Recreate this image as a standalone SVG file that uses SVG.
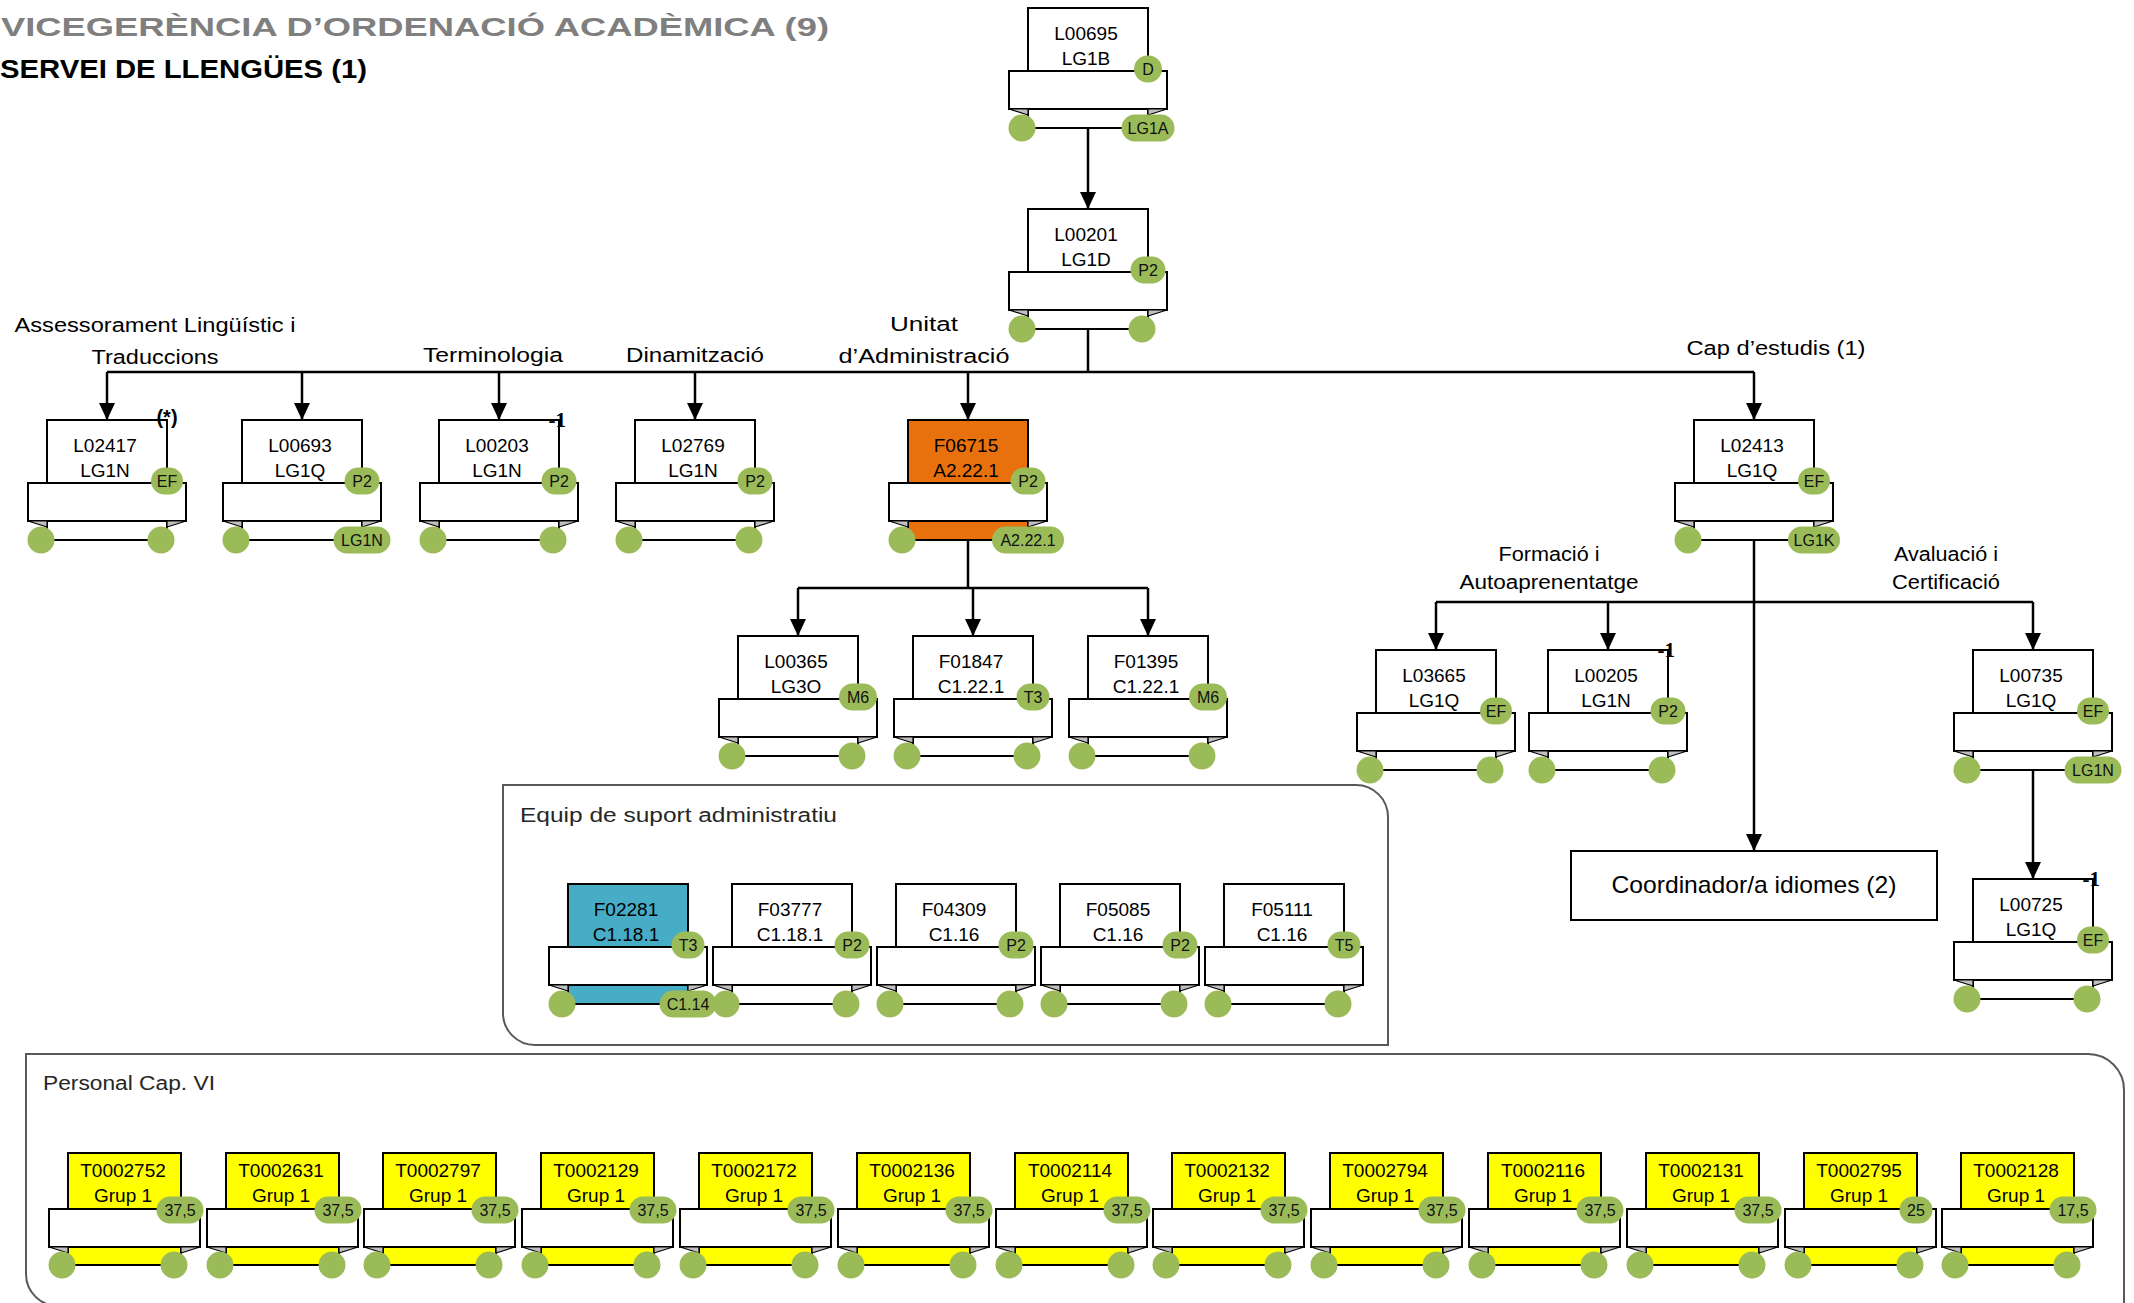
<svg xmlns="http://www.w3.org/2000/svg" xmlns:xlink="http://www.w3.org/1999/xlink" width="2134" height="1303" viewBox="0 0 2134 1303">
<style>
.t{font-family:"Liberation Sans",Arial,sans-serif;font-size:19px;text-anchor:middle;fill:#000}
.bt{font-family:"Liberation Sans",Arial,sans-serif;font-size:16px;text-anchor:middle;fill:#111}
.b{fill:#9BBB59}
.lbl{font-family:"Liberation Sans",Arial,sans-serif;font-size:20px;text-anchor:middle;fill:#000}
.grp{fill:#fff;stroke:#595959;stroke-width:2}
.gt{font-family:"Liberation Sans",Arial,sans-serif;font-size:20px;fill:#262626}
.mk{font-family:"Liberation Serif","Times New Roman",serif;font-weight:bold;font-size:21px;text-anchor:end;fill:#000}
.ln{fill:none;stroke:#000;stroke-width:2.5}
</style>
<defs>
<marker id="ah" markerUnits="userSpaceOnUse" markerWidth="17" markerHeight="16" viewBox="0 0 17 16" refX="17" refY="8" orient="auto">
<path d="M0,0 L17,8 L0,16 Z" fill="#000"/>
</marker>
<g id="card">
<rect x="0" y="0" width="120" height="120" stroke="#000" stroke-width="2"/>
<rect x="-19" y="63" width="158" height="38" fill="#fff" stroke="#000" stroke-width="2"/>
<path d="M-19,101 L0,101 L0,107 Z" fill="#C0C0C0" stroke="#000" stroke-width="1.2"/>
<path d="M139,101 L120,101 L120,107 Z" fill="#C0C0C0" stroke="#000" stroke-width="1.2"/>
</g>
<g id="ycard">
<rect x="0" y="0" width="113" height="112" fill="#FFFF00" stroke="#000" stroke-width="2"/>
<rect x="-19" y="56" width="151" height="38" fill="#fff" stroke="#000" stroke-width="2"/>
<path d="M-19,94 L0,94 L0,100 Z" fill="#C0C0C0" stroke="#000" stroke-width="1.2"/>
<path d="M132,94 L113,94 L113,100 Z" fill="#C0C0C0" stroke="#000" stroke-width="1.2"/>
</g>
</defs>
<rect x="0" y="0" width="2134" height="1303" fill="#fff"/>

<text x="1" y="36" font-family="Liberation Sans, Arial, sans-serif" font-weight="bold" font-size="26" fill="#7F7F7F" textLength="828" lengthAdjust="spacingAndGlyphs">VICEGERÈNCIA D’ORDENACIÓ ACADÈMICA (9)</text>
<text x="0" y="78" font-family="Liberation Sans, Arial, sans-serif" font-weight="bold" font-size="26" fill="#000" textLength="367" lengthAdjust="spacingAndGlyphs">SERVEI DE LLENGÜES (1)</text>

<g id="grp-equip">
<path class="grp" d="M503,785 H1356 A32,32 0 0 1 1388,817 V1045 H535 A32,32 0 0 1 503,1013 Z"/>
<text class="gt" x="520" y="822" textLength="317" lengthAdjust="spacingAndGlyphs">Equip de suport administratiu</text>
</g>
<g id="grp-personal">
<path class="grp" d="M26,1054 H2088 A36,36 0 0 1 2124,1090 V1306 H58 A32,32 0 0 1 26,1274 Z"/>
<text class="gt" x="43" y="1090" textLength="172" lengthAdjust="spacingAndGlyphs">Personal Cap. VI</text>
</g>

<g id="labels">
<text class="lbl" x="155" y="332" textLength="281" lengthAdjust="spacingAndGlyphs">Assessorament Lingüístic i</text>
<text class="lbl" x="155" y="364" textLength="127" lengthAdjust="spacingAndGlyphs">Traduccions</text>
<text class="lbl" x="493" y="362" textLength="140" lengthAdjust="spacingAndGlyphs">Terminologia</text>
<text class="lbl" x="695" y="362" textLength="138" lengthAdjust="spacingAndGlyphs">Dinamització</text>
<text class="lbl" x="924" y="331" textLength="68" lengthAdjust="spacingAndGlyphs">Unitat</text>
<text class="lbl" x="924" y="363" textLength="171" lengthAdjust="spacingAndGlyphs">d’Administració</text>
<text class="lbl" x="1776" y="355" textLength="179" lengthAdjust="spacingAndGlyphs">Cap d’estudis (1)</text>
<text class="lbl" x="1549" y="561" textLength="101" lengthAdjust="spacingAndGlyphs">Formació i</text>
<text class="lbl" x="1549" y="589" textLength="179" lengthAdjust="spacingAndGlyphs">Autoaprenentatge</text>
<text class="lbl" x="1946" y="561" textLength="104" lengthAdjust="spacingAndGlyphs">Avaluació i</text>
<text class="lbl" x="1946" y="589" textLength="108" lengthAdjust="spacingAndGlyphs">Certificació</text>
</g>

<g id="connectors">
<path class="ln" d="M1088,128 V209" marker-end="url(#ah)"/>
<path class="ln" d="M1088,329 V372"/>
<path class="ln" d="M107,372 H1754"/>
<path class="ln" d="M107,372 V420" marker-end="url(#ah)"/>
<path class="ln" d="M302,372 V420" marker-end="url(#ah)"/>
<path class="ln" d="M499,372 V420" marker-end="url(#ah)"/>
<path class="ln" d="M695,372 V420" marker-end="url(#ah)"/>
<path class="ln" d="M968,372 V420" marker-end="url(#ah)"/>
<path class="ln" d="M1754,372 V420" marker-end="url(#ah)"/>
<path class="ln" d="M968,540 V588"/>
<path class="ln" d="M798,588 H1148"/>
<path class="ln" d="M798,588 V636" marker-end="url(#ah)"/>
<path class="ln" d="M973,588 V636" marker-end="url(#ah)"/>
<path class="ln" d="M1148,588 V636" marker-end="url(#ah)"/>
<path class="ln" d="M1754,540 V851" marker-end="url(#ah)"/>
<path class="ln" d="M1436,602 H2033"/>
<path class="ln" d="M1436,602 V650" marker-end="url(#ah)"/>
<path class="ln" d="M1608,602 V650" marker-end="url(#ah)"/>
<path class="ln" d="M2033,602 V650" marker-end="url(#ah)"/>
<path class="ln" d="M2033,770 V879" marker-end="url(#ah)"/>
</g>

<g id="coordinador">
<rect x="1571" y="851" width="366" height="69" fill="#fff" stroke="#000" stroke-width="2"/>
<text x="1754" y="893" font-family="Liberation Sans, Arial, sans-serif" font-size="24" text-anchor="middle" textLength="285" lengthAdjust="spacingAndGlyphs">Coordinador/a idiomes (2)</text>
</g>

<g id="L00695">
<use href="#card" x="1028" y="8" fill="#fff"/>
<text class="t" x="1086" y="40">L00695</text><text class="t" x="1086" y="65">LG1B</text>
<rect class="b" x="1134" y="55.5" width="28" height="27" rx="13.5"/><text class="bt" x="1148" y="75">D</text>
<circle class="b" cx="1022" cy="128" r="13.5"/>
<rect class="b" x="1121.5" y="114.5" width="53" height="27" rx="13.5"/><text class="bt" x="1148" y="134">LG1A</text>
</g>

<g id="L00201">
<use href="#card" x="1028" y="209" fill="#fff"/>
<text class="t" x="1086" y="241">L00201</text><text class="t" x="1086" y="266">LG1D</text>
<rect class="b" x="1130.5" y="256.5" width="35" height="27" rx="13.5"/><text class="bt" x="1148" y="276">P2</text>
<circle class="b" cx="1022" cy="329" r="13.5"/><circle class="b" cx="1142" cy="329" r="13.5"/>
</g>

<g id="L02417">
<use href="#card" x="47" y="420" fill="#fff"/>
<text class="t" x="105" y="452">L02417</text><text class="t" x="105" y="477">LG1N</text>
<rect class="b" x="151" y="467.5" width="32" height="27" rx="13.5"/><text class="bt" x="167" y="487">EF</text>
<circle class="b" cx="41" cy="540" r="13.5"/><circle class="b" cx="161" cy="540" r="13.5"/>
<text x="167" y="424" font-family="Liberation Sans, Arial, sans-serif" font-weight="bold" font-size="20" text-anchor="middle">(*)</text>
</g>

<g id="L00693">
<use href="#card" x="242" y="420" fill="#fff"/>
<text class="t" x="300" y="452">L00693</text><text class="t" x="300" y="477">LG1Q</text>
<rect class="b" x="344.5" y="467.5" width="35" height="27" rx="13.5"/><text class="bt" x="362" y="487">P2</text>
<circle class="b" cx="236" cy="540" r="13.5"/>
<rect class="b" x="333.5" y="526.5" width="57" height="27" rx="13.5"/><text class="bt" x="362" y="546">LG1N</text>
</g>

<g id="L00203">
<use href="#card" x="439" y="420" fill="#fff"/>
<text class="t" x="497" y="452">L00203</text><text class="t" x="497" y="477">LG1N</text>
<rect class="b" x="541.5" y="467.5" width="35" height="27" rx="13.5"/><text class="bt" x="559" y="487">P2</text>
<circle class="b" cx="433" cy="540" r="13.5"/><circle class="b" cx="553" cy="540" r="13.5"/>
<text class="mk" x="566" y="427">-1</text>
</g>

<g id="L02769">
<use href="#card" x="635" y="420" fill="#fff"/>
<text class="t" x="693" y="452">L02769</text><text class="t" x="693" y="477">LG1N</text>
<rect class="b" x="737.5" y="467.5" width="35" height="27" rx="13.5"/><text class="bt" x="755" y="487">P2</text>
<circle class="b" cx="629" cy="540" r="13.5"/><circle class="b" cx="749" cy="540" r="13.5"/>
</g>

<g id="F06715">
<use href="#card" x="908" y="420" fill="#E8710D"/>
<text class="t" x="966" y="452">F06715</text><text class="t" x="966" y="477">A2.22.1</text>
<rect class="b" x="1010.5" y="467.5" width="35" height="27" rx="13.5"/><text class="bt" x="1028" y="487">P2</text>
<circle class="b" cx="902" cy="540" r="13.5"/>
<rect class="b" x="992" y="526.5" width="72" height="27" rx="13.5"/><text class="bt" x="1028" y="546">A2.22.1</text>
</g>

<g id="L02413">
<use href="#card" x="1694" y="420" fill="#fff"/>
<text class="t" x="1752" y="452">L02413</text><text class="t" x="1752" y="477">LG1Q</text>
<rect class="b" x="1798" y="467.5" width="32" height="27" rx="13.5"/><text class="bt" x="1814" y="487">EF</text>
<circle class="b" cx="1688" cy="540" r="13.5"/>
<rect class="b" x="1788" y="526.5" width="52" height="27" rx="13.5"/><text class="bt" x="1814" y="546">LG1K</text>
</g>

<g id="L00365">
<use href="#card" x="738" y="636" fill="#fff"/>
<text class="t" x="796" y="668">L00365</text><text class="t" x="796" y="693">LG3O</text>
<rect class="b" x="839" y="683.5" width="38" height="27" rx="13.5"/><text class="bt" x="858" y="703">M6</text>
<circle class="b" cx="732" cy="756" r="13.5"/><circle class="b" cx="852" cy="756" r="13.5"/>
</g>

<g id="F01847">
<use href="#card" x="913" y="636" fill="#fff"/>
<text class="t" x="971" y="668">F01847</text><text class="t" x="971" y="693">C1.22.1</text>
<rect class="b" x="1016.5" y="683.5" width="33" height="27" rx="13.5"/><text class="bt" x="1033" y="703">T3</text>
<circle class="b" cx="907" cy="756" r="13.5"/><circle class="b" cx="1027" cy="756" r="13.5"/>
</g>

<g id="F01395">
<use href="#card" x="1088" y="636" fill="#fff"/>
<text class="t" x="1146" y="668">F01395</text><text class="t" x="1146" y="693">C1.22.1</text>
<rect class="b" x="1189" y="683.5" width="38" height="27" rx="13.5"/><text class="bt" x="1208" y="703">M6</text>
<circle class="b" cx="1082" cy="756" r="13.5"/><circle class="b" cx="1202" cy="756" r="13.5"/>
</g>

<g id="L03665">
<use href="#card" x="1376" y="650" fill="#fff"/>
<text class="t" x="1434" y="682">L03665</text><text class="t" x="1434" y="707">LG1Q</text>
<rect class="b" x="1480" y="697.5" width="32" height="27" rx="13.5"/><text class="bt" x="1496" y="717">EF</text>
<circle class="b" cx="1370" cy="770" r="13.5"/><circle class="b" cx="1490" cy="770" r="13.5"/>
</g>

<g id="L00205">
<use href="#card" x="1548" y="650" fill="#fff"/>
<text class="t" x="1606" y="682">L00205</text><text class="t" x="1606" y="707">LG1N</text>
<rect class="b" x="1650.5" y="697.5" width="35" height="27" rx="13.5"/><text class="bt" x="1668" y="717">P2</text>
<circle class="b" cx="1542" cy="770" r="13.5"/><circle class="b" cx="1662" cy="770" r="13.5"/>
<text class="mk" x="1675" y="657">-1</text>
</g>

<g id="L00735">
<use href="#card" x="1973" y="650" fill="#fff"/>
<text class="t" x="2031" y="682">L00735</text><text class="t" x="2031" y="707">LG1Q</text>
<rect class="b" x="2077" y="697.5" width="32" height="27" rx="13.5"/><text class="bt" x="2093" y="717">EF</text>
<circle class="b" cx="1967" cy="770" r="13.5"/>
<rect class="b" x="2064.5" y="756.5" width="57" height="27" rx="13.5"/><text class="bt" x="2093" y="776">LG1N</text>
</g>

<g id="L00725">
<use href="#card" x="1973" y="879" fill="#fff"/>
<text class="t" x="2031" y="911">L00725</text><text class="t" x="2031" y="936">LG1Q</text>
<rect class="b" x="2077" y="926.5" width="32" height="27" rx="13.5"/><text class="bt" x="2093" y="946">EF</text>
<circle class="b" cx="1967" cy="999" r="13.5"/><circle class="b" cx="2087" cy="999" r="13.5"/>
<text class="mk" x="2100" y="886">-1</text>
</g>

<g id="F02281">
<use href="#card" x="568" y="884" fill="#47ACC5"/>
<text class="t" x="626" y="916">F02281</text><text class="t" x="626" y="941">C1.18.1</text>
<rect class="b" x="671.5" y="931.5" width="33" height="27" rx="13.5"/><text class="bt" x="688" y="951">T3</text>
<circle class="b" cx="562" cy="1004" r="13.5"/>
<rect class="b" x="659.5" y="990.5" width="57" height="27" rx="13.5"/><text class="bt" x="688" y="1010">C1.14</text>
</g>

<g id="F03777">
<use href="#card" x="732" y="884" fill="#fff"/>
<text class="t" x="790" y="916">F03777</text><text class="t" x="790" y="941">C1.18.1</text>
<rect class="b" x="834.5" y="931.5" width="35" height="27" rx="13.5"/><text class="bt" x="852" y="951">P2</text>
<circle class="b" cx="726" cy="1004" r="13.5"/><circle class="b" cx="846" cy="1004" r="13.5"/>
</g>

<g id="F04309">
<use href="#card" x="896" y="884" fill="#fff"/>
<text class="t" x="954" y="916">F04309</text><text class="t" x="954" y="941">C1.16</text>
<rect class="b" x="998.5" y="931.5" width="35" height="27" rx="13.5"/><text class="bt" x="1016" y="951">P2</text>
<circle class="b" cx="890" cy="1004" r="13.5"/><circle class="b" cx="1010" cy="1004" r="13.5"/>
</g>

<g id="F05085">
<use href="#card" x="1060" y="884" fill="#fff"/>
<text class="t" x="1118" y="916">F05085</text><text class="t" x="1118" y="941">C1.16</text>
<rect class="b" x="1162.5" y="931.5" width="35" height="27" rx="13.5"/><text class="bt" x="1180" y="951">P2</text>
<circle class="b" cx="1054" cy="1004" r="13.5"/><circle class="b" cx="1174" cy="1004" r="13.5"/>
</g>

<g id="F05111">
<use href="#card" x="1224" y="884" fill="#fff"/>
<text class="t" x="1282" y="916">F05111</text><text class="t" x="1282" y="941">C1.16</text>
<rect class="b" x="1327.5" y="931.5" width="33" height="27" rx="13.5"/><text class="bt" x="1344" y="951">T5</text>
<circle class="b" cx="1218" cy="1004" r="13.5"/><circle class="b" cx="1338" cy="1004" r="13.5"/>
</g>

<g id="T0002752"><use href="#ycard" x="68" y="1153"/>
<text class="t" x="123" y="1177">T0002752</text><text class="t" x="123" y="1202">Grup 1</text>
<rect class="b" x="156.5" y="1196.5" width="47" height="27" rx="13.5"/><text class="bt" x="180" y="1216">37,5</text>
<circle class="b" cx="62" cy="1265" r="13.5"/><circle class="b" cx="174" cy="1265" r="13.5"/></g>

<g id="T0002631"><use href="#ycard" x="226" y="1153"/>
<text class="t" x="281" y="1177">T0002631</text><text class="t" x="281" y="1202">Grup 1</text>
<rect class="b" x="314.5" y="1196.5" width="47" height="27" rx="13.5"/><text class="bt" x="338" y="1216">37,5</text>
<circle class="b" cx="220" cy="1265" r="13.5"/><circle class="b" cx="332" cy="1265" r="13.5"/></g>

<g id="T0002797"><use href="#ycard" x="383" y="1153"/>
<text class="t" x="438" y="1177">T0002797</text><text class="t" x="438" y="1202">Grup 1</text>
<rect class="b" x="471.5" y="1196.5" width="47" height="27" rx="13.5"/><text class="bt" x="495" y="1216">37,5</text>
<circle class="b" cx="377" cy="1265" r="13.5"/><circle class="b" cx="489" cy="1265" r="13.5"/></g>

<g id="T0002129"><use href="#ycard" x="541" y="1153"/>
<text class="t" x="596" y="1177">T0002129</text><text class="t" x="596" y="1202">Grup 1</text>
<rect class="b" x="629.5" y="1196.5" width="47" height="27" rx="13.5"/><text class="bt" x="653" y="1216">37,5</text>
<circle class="b" cx="535" cy="1265" r="13.5"/><circle class="b" cx="647" cy="1265" r="13.5"/></g>

<g id="T0002172"><use href="#ycard" x="699" y="1153"/>
<text class="t" x="754" y="1177">T0002172</text><text class="t" x="754" y="1202">Grup 1</text>
<rect class="b" x="787.5" y="1196.5" width="47" height="27" rx="13.5"/><text class="bt" x="811" y="1216">37,5</text>
<circle class="b" cx="693" cy="1265" r="13.5"/><circle class="b" cx="805" cy="1265" r="13.5"/></g>

<g id="T0002136"><use href="#ycard" x="857" y="1153"/>
<text class="t" x="912" y="1177">T0002136</text><text class="t" x="912" y="1202">Grup 1</text>
<rect class="b" x="945.5" y="1196.5" width="47" height="27" rx="13.5"/><text class="bt" x="969" y="1216">37,5</text>
<circle class="b" cx="851" cy="1265" r="13.5"/><circle class="b" cx="963" cy="1265" r="13.5"/></g>

<g id="T0002114"><use href="#ycard" x="1015" y="1153"/>
<text class="t" x="1070" y="1177">T0002114</text><text class="t" x="1070" y="1202">Grup 1</text>
<rect class="b" x="1103.5" y="1196.5" width="47" height="27" rx="13.5"/><text class="bt" x="1127" y="1216">37,5</text>
<circle class="b" cx="1009" cy="1265" r="13.5"/><circle class="b" cx="1121" cy="1265" r="13.5"/></g>

<g id="T0002132"><use href="#ycard" x="1172" y="1153"/>
<text class="t" x="1227" y="1177">T0002132</text><text class="t" x="1227" y="1202">Grup 1</text>
<rect class="b" x="1260.5" y="1196.5" width="47" height="27" rx="13.5"/><text class="bt" x="1284" y="1216">37,5</text>
<circle class="b" cx="1166" cy="1265" r="13.5"/><circle class="b" cx="1278" cy="1265" r="13.5"/></g>

<g id="T0002794"><use href="#ycard" x="1330" y="1153"/>
<text class="t" x="1385" y="1177">T0002794</text><text class="t" x="1385" y="1202">Grup 1</text>
<rect class="b" x="1418.5" y="1196.5" width="47" height="27" rx="13.5"/><text class="bt" x="1442" y="1216">37,5</text>
<circle class="b" cx="1324" cy="1265" r="13.5"/><circle class="b" cx="1436" cy="1265" r="13.5"/></g>

<g id="T0002116"><use href="#ycard" x="1488" y="1153"/>
<text class="t" x="1543" y="1177">T0002116</text><text class="t" x="1543" y="1202">Grup 1</text>
<rect class="b" x="1576.5" y="1196.5" width="47" height="27" rx="13.5"/><text class="bt" x="1600" y="1216">37,5</text>
<circle class="b" cx="1482" cy="1265" r="13.5"/><circle class="b" cx="1594" cy="1265" r="13.5"/></g>

<g id="T0002131"><use href="#ycard" x="1646" y="1153"/>
<text class="t" x="1701" y="1177">T0002131</text><text class="t" x="1701" y="1202">Grup 1</text>
<rect class="b" x="1734.5" y="1196.5" width="47" height="27" rx="13.5"/><text class="bt" x="1758" y="1216">37,5</text>
<circle class="b" cx="1640" cy="1265" r="13.5"/><circle class="b" cx="1752" cy="1265" r="13.5"/></g>

<g id="T0002795"><use href="#ycard" x="1804" y="1153"/>
<text class="t" x="1859" y="1177">T0002795</text><text class="t" x="1859" y="1202">Grup 1</text>
<rect class="b" x="1899.5" y="1196.5" width="33" height="27" rx="13.5"/><text class="bt" x="1916" y="1216">25</text>
<circle class="b" cx="1798" cy="1265" r="13.5"/><circle class="b" cx="1910" cy="1265" r="13.5"/></g>

<g id="T0002128"><use href="#ycard" x="1961" y="1153"/>
<text class="t" x="2016" y="1177">T0002128</text><text class="t" x="2016" y="1202">Grup 1</text>
<rect class="b" x="2049.5" y="1196.5" width="47" height="27" rx="13.5"/><text class="bt" x="2073" y="1216">17,5</text>
<circle class="b" cx="1955" cy="1265" r="13.5"/><circle class="b" cx="2067" cy="1265" r="13.5"/></g>
</svg>
